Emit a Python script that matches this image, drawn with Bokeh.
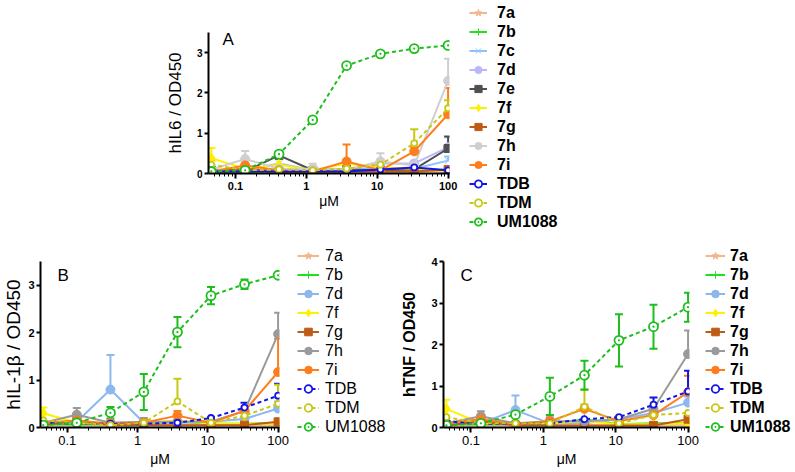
import math
import numpy as np
from bokeh.plotting import figure
from bokeh.models import ColumnDataSource, Whisker, TeeHead, Legend, LegendItem, FixedTicker, Label
from bokeh.layouts import column, row
from bokeh.embed import file_html
from bokeh.resources import INLINE

# ---------------- data ----------------
conc = [0.0457, 0.137, 0.412, 1.23, 3.70, 11.1, 33.3, 100.0]
x_ticks = [0.1, 1, 10, 100]
x_tick_labels = ["0.1", "1", "10", "100"]

# Panel A : hIL6 / OD450
A_7a = [0.05, 0.05, 0.05, 0.05, 0.05, 0.05, 0.05, 0.05]
A_7a_err = [0, 0, 0, 0, 0, 0, 0, 0]
A_7b = [0.05, 0.05, 0.05, 0.05, 0.08, 0.08, 0.12, 0.08]
A_7b_err = [0, 0, 0, 0, 0, 0, 0, 0]
A_7c = [0.10, 0.08, 0.25, 0.08, 0.10, 0.12, 0.12, 0.32]
A_7c_err = [0, 0, 0, 0, 0, 0, 0, 0.1]
A_7d = [0.08, 0.10, 0.10, 0.12, 0.10, 0.25, 0.25, 0.65]
A_7d_err = [0, 0, 0, 0, 0, 0, 0, 0.25]
A_7e = [0.08, 0.05, 0.45, 0.08, 0.10, 0.08, 0.10, 0.62]
A_7e_err = [0, 0, 0.05, 0, 0, 0, 0, 0.3]
A_7f = [0.38, 0.12, 0.22, 0.08, 0.25, 0.15, 0.12, 0.05]
A_7f_err = [0.25, 0, 0, 0, 0, 0, 0, 0]
A_7g = [0.05, 0.12, 0.05, 0.05, 0.05, 0.05, 0.05, 0.10]
A_7g_err = [0, 0, 0, 0, 0, 0, 0, 0]
A_7h = [0.10, 0.36, 0.12, 0.12, 0.10, 0.30, 0.20, 2.30]
A_7h_err = [0, 0.2, 0, 0.12, 0, 0.2, 0, 0.55]
A_7i = [0.05, 0.20, 0.08, 0.05, 0.30, 0.08, 0.55, 1.47]
A_7i_err = [0, 0.05, 0, 0, 0.42, 0, 0.1, 0.65]
A_TDB = [0.05, 0.05, 0.05, 0.05, 0.05, 0.10, 0.15, 0.08]
A_TDB_err = [0, 0, 0, 0, 0, 0, 0, 0]
A_TDM = [0.22, 0.08, 0.10, 0.08, 0.12, 0.22, 0.75, 1.62]
A_TDM_err = [0.1, 0, 0, 0, 0, 0, 0.35, 0.2]
A_UM1088 = [0.05, 0.08, 0.48, 1.33, 2.68, 2.97, 3.10, 3.18]
A_UM1088_err = [0, 0, 0, 0, 0, 0, 0, 0]

# Panel B : hIL-1β / OD450
B_7a = [0.05, 0.05, 0.05, 0.05, 0.05, 0.05, 0.05, 0.05]
B_7a_err = [0, 0, 0, 0, 0, 0, 0, 0]
B_7b = [0.07, 0.07, 0.07, 0.07, 0.12, 0.08, 0.08, 0.10]
B_7b_err = [0, 0, 0, 0, 0, 0, 0, 0]
B_7d = [0.10, 0.12, 0.80, 0.10, 0.10, 0.12, 0.18, 0.40]
B_7d_err = [0, 0, 0.73, 0, 0, 0, 0, 0.15]
B_7f = [0.30, 0.10, 0.10, 0.10, 0.15, 0.08, 0.08, 0.08]
B_7f_err = [0.12, 0, 0, 0, 0, 0, 0, 0]
B_7g = [0.05, 0.15, 0.05, 0.05, 0.05, 0.05, 0.05, 0.12]
B_7g_err = [0, 0, 0, 0, 0, 0, 0, 0]
B_7h = [0.10, 0.27, 0.10, 0.12, 0.12, 0.12, 0.35, 1.97]
B_7h_err = [0, 0.14, 0, 0.08, 0, 0.1, 0, 0.45]
B_7i = [0.10, 0.15, 0.08, 0.10, 0.25, 0.10, 0.35, 1.17]
B_7i_err = [0, 0, 0, 0, 0.1, 0, 0.1, 0.7]
B_TDB = [0.10, 0.08, 0.08, 0.08, 0.10, 0.20, 0.42, 0.67]
B_TDB_err = [0, 0, 0, 0, 0, 0, 0.1, 0.25]
B_TDM = [0.15, 0.10, 0.05, 0.10, 0.55, 0.10, 0.25, 0.50]
B_TDM_err = [0, 0, 0, 0, 0.48, 0, 0, 0.4]
B_UM1088 = [0.05, 0.10, 0.31, 0.75, 2.01, 2.78, 3.02, 3.21]
B_UM1088_err = [0, 0, 0.12, 0.38, 0.32, 0.18, 0.1, 0.03]

# Panel C : hTNF / OD450
C_7a = [0.05, 0.05, 0.05, 0.05, 0.05, 0.05, 0.05, 0.05]
C_7a_err = [0, 0, 0, 0, 0, 0, 0, 0]
C_7b = [0.08, 0.08, 0.08, 0.08, 0.20, 0.08, 0.10, 0.10]
C_7b_err = [0, 0, 0, 0, 0, 0, 0, 0]
C_7d = [0.10, 0.10, 0.42, 0.10, 0.10, 0.20, 0.35, 0.60]
C_7d_err = [0, 0, 0.35, 0, 0, 0.08, 0.1, 0.15]
C_7f = [0.45, 0.10, 0.10, 0.10, 0.15, 0.08, 0.08, 0.10]
C_7f_err = [0.22, 0, 0, 0, 0, 0, 0, 0]
C_7g = [0.05, 0.15, 0.05, 0.05, 0.05, 0.05, 0.05, 0.20]
C_7g_err = [0, 0, 0, 0, 0, 0, 0, 0]
C_7h = [0.10, 0.27, 0.10, 0.15, 0.15, 0.20, 0.45, 1.77]
C_7h_err = [0, 0.12, 0, 0.1, 0, 0, 0, 0.57]
C_7i = [0.10, 0.20, 0.08, 0.15, 0.45, 0.15, 0.30, 0.85]
C_7i_err = [0, 0, 0, 0, 0.1, 0, 0, 0.4]
C_TDB = [0.15, 0.08, 0.10, 0.10, 0.20, 0.25, 0.55, 0.87]
C_TDB_err = [0, 0, 0, 0, 0, 0, 0.17, 0.5]
C_TDM = [0.25, 0.10, 0.10, 0.10, 0.50, 0.10, 0.30, 0.35]
C_TDM_err = [0, 0, 0, 0, 0.42, 0, 0, 0]
C_UM1088 = [0.05, 0.10, 0.31, 0.75, 1.26, 2.10, 2.43, 2.90]
C_UM1088_err = [0, 0, 0.05, 0.45, 0.35, 0.63, 0.53, 0.35]

# ---------------- styles ----------------
FONT = "Liberation Sans"
GREEN_UM = "#1DBE1D"

STYLE_A = {
    "7a": dict(color="#F6B58A", marker="star", size=9, dash="solid", hollow=False),
    "7b": dict(color="#1EE01E", marker="cross", size=10, dash="solid", hollow=False),
    "7c": dict(color="#8EC3FF", marker="x", size=9, dash="solid", hollow=False),
    "7d": dict(color="#B9B9F7", marker="circle", size=9, dash="solid", hollow=False),
    "7e": dict(color="#505050", marker="square", size=8, dash="solid", hollow=False),
    "7f": dict(color="#FFF000", marker="diamond", size=11, dash="solid", hollow=False),
    "7g": dict(color="#BF5B14", marker="square", size=8, dash="solid", hollow=False),
    "7h": dict(color="#CFCFCF", marker="circle", size=9, dash="solid", hollow=False),
    "7i": dict(color="#FF7D1C", marker="circle", size=9, dash="solid", hollow=False),
    "TDB": dict(color="#1414E6", marker="circle", size=6, dash="solid", hollow=True),
    "TDM": dict(color="#C8C814", marker="circle", size=6, dash="4 3", hollow=True),
    "UM1088": dict(color=GREEN_UM, marker="circle_dot", size=9, dash="4 3", hollow=True),
}
STYLE_BC = dict(STYLE_A)
STYLE_BC["7d"] = dict(color="#8DB8EE", marker="circle", size=9, dash="solid", hollow=False)
STYLE_BC["7h"] = dict(color="#9A9A9A", marker="circle", size=9, dash="solid", hollow=False)
STYLE_BC["TDB"] = dict(color="#1414E6", marker="circle", size=6, dash="4 3", hollow=True)

series_A = [("7a", A_7a, A_7a_err), ("7b", A_7b, A_7b_err), ("7c", A_7c, A_7c_err),
            ("7d", A_7d, A_7d_err), ("7e", A_7e, A_7e_err), ("7f", A_7f, A_7f_err),
            ("7g", A_7g, A_7g_err), ("7h", A_7h, A_7h_err), ("7i", A_7i, A_7i_err),
            ("TDB", A_TDB, A_TDB_err), ("TDM", A_TDM, A_TDM_err), ("UM1088", A_UM1088, A_UM1088_err)]
series_B = [("7a", B_7a, B_7a_err), ("7b", B_7b, B_7b_err), ("7d", B_7d, B_7d_err),
            ("7f", B_7f, B_7f_err), ("7g", B_7g, B_7g_err), ("7h", B_7h, B_7h_err),
            ("7i", B_7i, B_7i_err), ("TDB", B_TDB, B_TDB_err), ("TDM", B_TDM, B_TDM_err),
            ("UM1088", B_UM1088, B_UM1088_err)]
series_C = [("7a", C_7a, C_7a_err), ("7b", C_7b, C_7b_err), ("7d", C_7d, C_7d_err),
            ("7f", C_7f, C_7f_err), ("7g", C_7g, C_7g_err), ("7h", C_7h, C_7h_err),
            ("7i", C_7i, C_7i_err), ("TDB", C_TDB, C_TDB_err), ("TDM", C_TDM, C_TDM_err),
            ("UM1088", C_UM1088, C_UM1088_err)]

minor = [m * 10.0 ** k for k in range(-2, 3) for m in range(2, 10)]


def draw_series(p, st, xs, ys):
    c = st["color"]
    lr = p.line(xs, ys, line_color=c, line_width=2, line_dash=st["dash"])
    fill = "white" if st["hollow"] else c
    sr = p.scatter(xs, ys, marker=st["marker"], size=st["size"], line_color=c,
                   fill_color=fill, line_width=1.8 if st["hollow"] else 1)
    return lr, sr


def make_panel(series, styles, *, ymax, yticks, bl, fw, br, bt, fh, bb,
               letter, letter_xy, ytitle, ytitle_size, ytitle_style, ytitle_standoff,
               xtick_size, xtick_style, ytick_size, xtitle_standoff, two_sided_um):
    p = figure(width=bl + fw + br, height=bt + fh + bb, x_axis_type="log",
               x_range=(10 ** -1.38, 10 ** 2.02), y_range=(0, ymax),
               output_backend="svg", toolbar_location=None,
               min_border_left=bl, min_border_right=br, min_border_top=bt, min_border_bottom=bb)
    p.outline_line_color = None
    p.xgrid.visible = False
    p.ygrid.visible = False
    p.background_fill_color = "white"
    p.border_fill_color = "white"

    p.xaxis.ticker = FixedTicker(ticks=x_ticks, minor_ticks=minor)
    p.xaxis.major_label_overrides = {t: l for t, l in zip(x_ticks, x_tick_labels)}
    p.yaxis.ticker = FixedTicker(ticks=yticks, minor_ticks=[])
    for ax in (p.xaxis, p.yaxis):
        ax.axis_line_width = 2
        ax.axis_line_color = "black"
        ax.major_tick_line_width = 2
        ax.major_tick_line_color = "black"
        ax.major_tick_in = 0
        ax.major_label_text_font = FONT
        ax.major_label_text_color = "black"
        ax.axis_label_text_font = FONT
        ax.axis_label_text_color = "black"
    p.xaxis.major_tick_out = 5
    p.xaxis.minor_tick_out = 3
    p.xaxis.minor_tick_in = 0
    p.xaxis.minor_tick_line_width = 1
    p.xaxis.minor_tick_line_color = "black"
    p.yaxis.major_tick_out = 4
    p.xaxis.major_label_text_font_size = xtick_size
    p.xaxis.major_label_text_font_style = xtick_style
    p.xaxis.major_label_standoff = 3
    p.yaxis.major_label_text_font_size = ytick_size
    p.yaxis.major_label_text_font_style = "bold"
    p.yaxis.major_label_standoff = 2
    p.xaxis.axis_label = "μM"
    p.xaxis.axis_label_text_font_style = "normal"
    p.xaxis.axis_label_text_font_size = "14px"
    p.xaxis.axis_label_standoff = xtitle_standoff
    p.yaxis.axis_label = ytitle
    p.yaxis.axis_label_text_font_size = ytitle_size
    p.yaxis.axis_label_text_font_style = ytitle_style
    p.yaxis.axis_label_standoff = ytitle_standoff

    for name, vals, errs in series:
        st = styles[name]
        c = st["color"]
        draw_series(p, st, conc, vals)
        idx = [i for i, e in enumerate(errs) if e > 0]
        if idx:
            two = two_sided_um and name == "UM1088"
            src = ColumnDataSource(dict(
                base=[conc[i] for i in idx],
                upper=[vals[i] + errs[i] for i in idx],
                lower=[vals[i] - errs[i] if two else vals[i] for i in idx]))
            w = Whisker(source=src, base="base", upper="upper", lower="lower",
                        dimension="height", line_color=c, line_width=2,
                        upper_head=TeeHead(size=8, line_color=c, line_width=2),
                        lower_head=TeeHead(size=8, line_color=c, line_width=2) if two else None)
            p.add_layout(w)

    p.add_layout(Label(x=letter_xy[0], y=letter_xy[1], x_units="screen", y_units="screen",
                       text=letter, text_font=FONT, text_font_size="17px",
                       text_align="left", text_baseline="alphabetic", text_color="black"))
    return p


def make_legend_fig(series, styles, *, width, height, margin, gw, ls, size, style):
    lf = figure(width=width, height=height, x_range=(0, 1), y_range=(0, 1),
                output_backend="svg", toolbar_location=None, min_border=0,
                x_axis_location=None, y_axis_location=None)
    lf.outline_line_color = None
    lf.xgrid.visible = False
    lf.ygrid.visible = False
    items = []
    blank = np.array([np.nan])  # legend-only renderers: nothing is plotted
    for name, vals, errs in series:
        lr, sr = draw_series(lf, styles[name], blank, blank)
        items.append(LegendItem(label=name, renderers=[lr, sr]))
    leg = Legend(items=items, location="top_left", orientation="vertical",
                 padding=0, margin=margin, spacing=0, glyph_width=gw, glyph_height=19,
                 label_height=19, label_standoff=ls, label_text_font=FONT,
                 label_text_font_size=size, label_text_font_style=style,
                 label_text_color="black", border_line_alpha=0, background_fill_alpha=0)
    lf.add_layout(leg)
    return lf


pA = make_panel(series_A, STYLE_A, ymax=3.5, yticks=[0, 1, 2, 3],
                bl=208, fw=241, br=17, bt=32, fh=141, bb=67,
                letter="A", letter_xy=(14, 134), ytitle="hIL6 / OD450",
                ytitle_size="17px", ytitle_style="normal", ytitle_standoff=9,
                xtick_size="11px", xtick_style="bold", ytick_size="10px",
                xtitle_standoff=0, two_sided_um=False)
legA = make_legend_fig(series_A, STYLE_A, width=110, height=240, margin=3,
                       gw=18, ls=10, size="16px", style="bold")

pB = make_panel(series_B, STYLE_BC, ymax=3.5, yticks=[0, 1, 2, 3],
                bl=36, fw=243, br=12, bt=21, fh=166, bb=45,
                letter="B", letter_xy=(17, 152), ytitle="hIL-1β / OD450",
                ytitle_size="19px", ytitle_style="normal", ytitle_standoff=1,
                xtick_size="13px", xtick_style="normal", ytick_size="11px",
                xtitle_standoff=3, two_sided_um=True)
legB = make_legend_fig(series_B, STYLE_BC, width=102, height=232, margin=6,
                       gw=22, ls=6, size="16px", style="normal")

pC = make_panel(series_C, STYLE_BC, ymax=4, yticks=[0, 1, 2, 3, 4],
                bl=50, fw=246, br=10, bt=21, fh=168, bb=43,
                letter="C", letter_xy=(17, 152), ytitle="hTNF / OD450",
                ytitle_size="16px", ytitle_style="bold", ytitle_standoff=10,
                xtick_size="13px", xtick_style="normal", ytick_size="11px",
                xtitle_standoff=3, two_sided_um=True)
legC = make_legend_fig(series_C, STYLE_BC, width=96, height=232, margin=6,
                       gw=20, ls=5, size="16px", style="bold")

# each legend figure sits in its own box so that its frame is not aligned
# with the neighbouring chart's frame
layout = column(row(pA, column(legA)),
                row(pB, column(legB), pC, column(legC)))
open("out.html", "w").write(file_html(layout, INLINE))
